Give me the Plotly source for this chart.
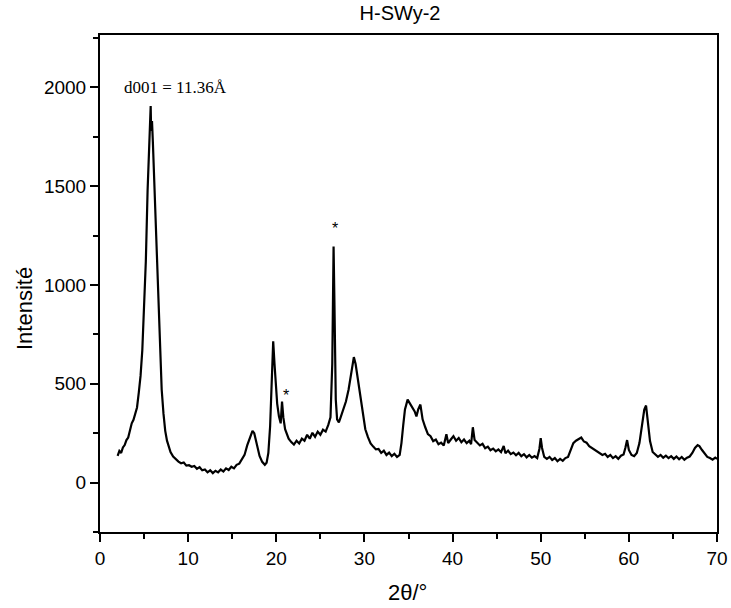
import plotly.graph_objects as go

two_theta = [
    2.0, 2.2, 2.4, 2.6, 2.8, 3.0, 3.2, 3.4, 3.6, 3.8, 4.0, 4.2, 4.4, 4.6, 4.8, 5.0, 5.1, 5.2, 5.4, 5.6,
    5.7, 5.75, 5.8, 5.9, 6.0, 6.2, 6.4, 6.6, 6.8, 7.0, 7.2, 7.4, 7.6, 7.8, 8.0, 8.3, 8.6, 8.9, 9.2, 9.5,
    9.8, 10.1, 10.4, 10.7, 11.0, 11.3, 11.6, 11.9, 12.2, 12.5, 12.8, 13.1, 13.4, 13.7, 14.0, 14.3, 14.6, 14.9, 15.2, 15.5,
    15.8, 16.1, 16.4, 16.7, 17.0, 17.3, 17.5, 17.7, 17.9, 18.1, 18.4, 18.7, 18.9, 19.1, 19.3, 19.5, 19.65, 19.8, 19.95, 20.1,
    20.3, 20.5, 20.65, 20.8, 21.0, 21.2, 21.4, 21.7, 22.0, 22.3, 22.6, 22.9, 23.2, 23.5, 23.8, 24.1, 24.4, 24.7, 25.0, 25.3,
    25.6, 25.9, 26.15, 26.35, 26.5, 26.6, 26.75, 26.9, 27.1, 27.3, 27.6, 27.9, 28.2, 28.5, 28.8, 29.0, 29.2, 29.5, 29.8, 30.1,
    30.4, 30.7, 31.0, 31.3, 31.6, 31.9, 32.2, 32.5, 32.8, 33.1, 33.4, 33.7, 34.0, 34.2, 34.4, 34.6, 34.9, 35.1, 35.3, 35.5,
    35.7, 35.9, 36.1, 36.35, 36.6, 36.9, 37.2, 37.5, 37.8, 38.1, 38.4, 38.7, 39.0, 39.3, 39.5, 39.8, 40.1, 40.4, 40.7, 41.0,
    41.3, 41.6, 41.9, 42.1, 42.3, 42.5, 42.8, 43.1, 43.4, 43.7, 44.0, 44.3, 44.6, 44.9, 45.2, 45.5, 45.8, 46.0, 46.3, 46.6,
    46.9, 47.2, 47.5, 47.8, 48.1, 48.4, 48.7, 49.0, 49.3, 49.6, 49.85, 50.0, 50.15, 50.4, 50.7, 51.0, 51.3, 51.6, 51.9, 52.2,
    52.5, 52.8, 53.1, 53.4, 53.7, 54.0, 54.3, 54.6, 54.9, 55.2, 55.5, 55.8, 56.1, 56.4, 56.7, 57.0, 57.3, 57.6, 57.9, 58.2,
    58.5, 58.8, 59.1, 59.4, 59.6, 59.8, 60.0, 60.3, 60.6, 60.9, 61.2, 61.5, 61.75, 61.95, 62.15, 62.4, 62.7, 63.0, 63.3, 63.6,
    63.9, 64.2, 64.5, 64.8, 65.1, 65.4, 65.7, 66.0, 66.3, 66.6, 66.9, 67.2, 67.5, 67.8, 68.0, 68.3, 68.6, 68.9, 69.2, 69.5,
    69.8, 70.0,
]

intensity = [
    135, 160, 150, 178, 190, 215, 228, 268, 300, 318, 348, 380, 455, 540, 670, 870, 980, 1120, 1480, 1800,
    1860, 1905, 1780, 1830, 1720, 1450, 1220, 990, 720, 470, 350, 262, 212, 180, 155, 132, 118, 106, 98, 102,
    86, 88, 80, 84, 70, 78, 62, 66, 52, 62, 48, 60, 52, 66, 56, 72, 64, 80, 72, 90,
    96, 118, 140, 188, 225, 262, 250, 215, 170, 135, 105, 90, 100, 150, 285, 520, 715, 600, 480, 400,
    335, 300, 410, 330, 270, 240, 222, 205, 192, 212, 198, 222, 212, 242, 222, 252, 232, 258, 242, 268,
    258, 292, 330, 600, 1195, 900, 420, 320, 305, 330, 365, 410, 470, 560, 635, 600, 540, 440, 340, 270,
    230, 198, 182, 168, 170, 150, 162, 140, 152, 134, 146, 130, 140, 200, 290, 370, 420, 405, 392, 378,
    360, 335, 370, 395, 320, 280, 245, 235, 210, 218, 194, 202, 188, 245, 200, 218, 235, 212, 226, 204,
    218, 200, 212, 194, 280, 215, 200, 188, 196, 174, 182, 164, 172, 158, 168, 154, 185, 148, 162, 144,
    152, 138, 150, 134, 144, 128, 140, 126, 134, 124, 170, 225, 175, 130, 120, 130, 114, 124, 108, 120,
    110, 124, 130, 165, 200, 212, 218, 228, 208, 202, 184, 176, 166, 156, 150, 140, 146, 130, 140, 124,
    134, 120, 136, 142, 175, 215, 165, 140, 134, 150, 200, 300, 370, 390, 310, 210, 155, 140, 130, 140,
    126, 136, 124, 134, 120, 132, 118, 130, 116, 126, 132, 150, 175, 190, 185, 165, 145, 130, 124, 116,
    126, 120,
]

chart_title = "H-SWy-2"
x_title = "2θ/°"
y_title = "Intensité"
peak_label = "d001 = 11.36Å"
star_x = [21.1, 26.7]
star_y = [440, 1285]

fig = go.Figure()
fig.add_trace(go.Scatter(
    x=two_theta, y=intensity, mode="lines",
    line=dict(color="black", width=2.2), showlegend=False,
))

fig.add_annotation(
    x=2.5, y=2000, xref="x", yref="y", text=peak_label, showarrow=False,
    xanchor="left", yanchor="middle",
    font=dict(family="Liberation Serif", size=17, color="black"),
)
for sx, sy in zip(star_x, star_y):
    fig.add_annotation(
        x=sx, y=sy, xref="x", yref="y", text="*", showarrow=False,
        xanchor="center", yanchor="middle",
        font=dict(family="Liberation Sans", size=16, color="black"),
    )

# axis titles as paper-positioned annotations (given in pixels, converted below)
fig.add_annotation(
    x=24, y=309, xref="paper", yref="paper", text=y_title, showarrow=False,
    textangle=-90, xanchor="center", yanchor="middle",
    font=dict(family="Liberation Sans", size=22, color="black"),
)
fig.add_annotation(
    x=407, y=592, xref="paper", yref="paper", text=x_title, showarrow=False,
    xanchor="center", yanchor="middle",
    font=dict(family="Liberation Sans", size=22, color="black"),
)

axis_common = dict(
    showgrid=False, zeroline=False, showline=True, linecolor="black", linewidth=2,
    mirror=True, ticks="outside", tickcolor="black", tickwidth=1.5, ticklen=8,
    automargin=False,
    tickfont=dict(family="Liberation Sans", size=19, color="black"),
)

fig.update_layout(
    width=731, height=608,
    paper_bgcolor="white", plot_bgcolor="white",
    margin=dict(l=100, r=14, t=35, b=76),
    title=dict(text=chart_title, x=400 / 731, xanchor="center", y=1 - 13 / 608, yanchor="middle",
               font=dict(family="Liberation Sans", size=20, color="black")),
    xaxis=dict(range=[0, 70], dtick=10, tick0=0,
               minor=dict(dtick=5, ticks="outside", ticklen=5, tickcolor="black", tickwidth=1.5),
               **axis_common),
    yaxis=dict(range=[-250, 2265], dtick=500, tick0=0,
               minor=dict(dtick=250, ticks="outside", ticklen=5, tickcolor="black", tickwidth=1.5),
               **axis_common),
)

pw, ph = 731 - 100 - 14, 608 - 35 - 76
for ann in fig.layout.annotations:
    if ann.xref == "paper":
        ann.x = (ann.x - 100) / pw
        ann.y = (608 - 76 - ann.y) / ph

fig.write_html(
    "out.html",
    config={"displayModeBar": False},
    post_script="document.body.style.margin='0';document.body.style.overflow='hidden';",
)
